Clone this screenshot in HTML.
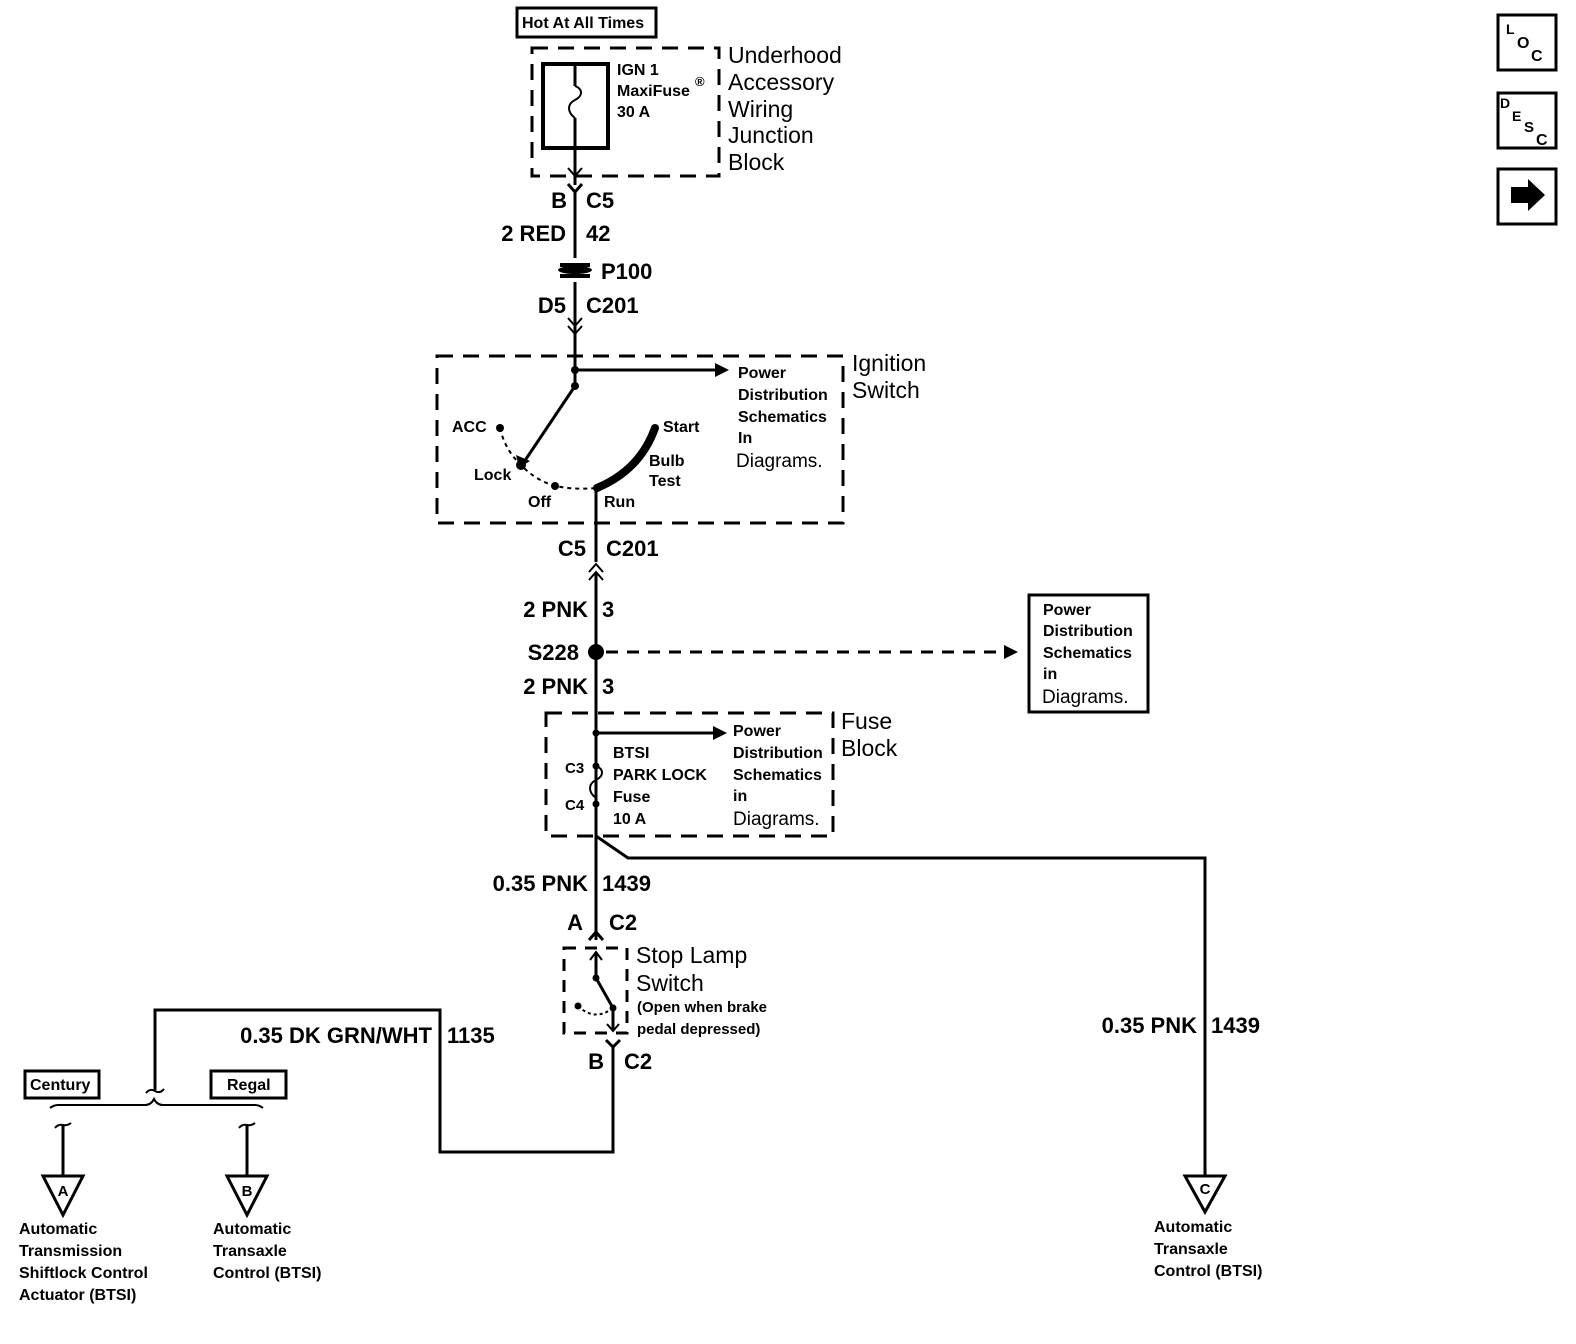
<!DOCTYPE html>
<html><head><meta charset="utf-8"><style>
html,body{margin:0;padding:0;background:#fff;}
svg{display:block;}
text{font-family:"Liberation Sans",Arial,sans-serif;fill:#000;}
.b{font-weight:bold;}
</style></head><body>
<svg width="1576" height="1344" viewBox="0 0 1576 1344" xmlns="http://www.w3.org/2000/svg">
<g fill="none" stroke="#000" stroke-width="3">
<!-- Hot at all times -->
<rect x="517" y="8" width="139" height="29"/>
<!-- underhood dashed -->
<rect x="532" y="48" width="187" height="128" stroke-dasharray="16,10"/>
<rect x="543" y="64" width="65" height="84" stroke-width="4"/>
<path d="M575 64 V86 M575 118 V185"/>
<path d="M575 86 c8 3 8 10 0 14 c-8 4 -8 12 0 18" stroke-width="2"/>
<path d="M568 168 L575 176 L582 168" stroke-width="2"/>
<path d="M568 184 L575 192 L582 184 M575 192 V258"/>
<!-- P100 -->
<path d="M560 265 H590 M560 276 H590" stroke-width="4"/>
<path d="M575 282 V335"/>
<path d="M568 318 L575 326 L582 318 M568 326 L575 334 L582 326" stroke-width="2"/>
<path d="M575 334 V386"/>
<!-- ignition dashed -->
<rect x="437" y="356" width="406" height="167" stroke-dasharray="16,10"/>
<path d="M575 370 H715"/>
<path d="M575 386 L524 462"/>
<path d="M500 428 Q505 450 521 465 Q535 480 555 486 Q575 490 597 488" stroke-width="2" stroke-dasharray="4,4"/>
<path d="M597 488 Q640 470 655 428" stroke-width="8"/>
<path d="M596 488 V562"/>
<path d="M589 572 L596 564 L603 572 M589 580 L596 572 L603 580" stroke-width="2"/>
<path d="M596 572 V940"/>
<path d="M606 652 H1005" stroke-dasharray="12,9"/>
<rect x="1029" y="595" width="119" height="117"/>
<!-- fuse block -->
<rect x="546" y="713" width="287" height="123" stroke-dasharray="16,10"/>
<path d="M596 733 H713"/>
<path d="M596 733 V766 M596 804 V836"/>
<path d="M596 766 c8 3 8 10 0 14 c-8 4 -8 12 0 18 v6" stroke-width="2"/>
<path d="M596 836 L628 858 H1205 V1176"/>
<path d="M589 940 L596 932 L603 940"/>
<!-- stop lamp -->
<rect x="564" y="948" width="63" height="85" stroke-dasharray="12,9"/>
<path d="M596 952 V978 L613 1008 V1030"/>
<path d="M590 960 L596 952 L602 960 M607 1024 L613 1031 L619 1024" stroke-width="2"/>
<path d="M578 1006 Q595 1022 613 1008" stroke-width="2" stroke-dasharray="3,3"/>
<path d="M606 1040 L613 1047 L620 1040 M613 1047 V1152 H440 V1010 H155 V1090"/>
<path d="M146 1093 q4 -5 9 -2 q5 3 9 -2" stroke-width="2"/>
<path d="M50 1108 q4 -3 8 -3 H145 q6 0 9 -6 q3 6 9 6 H255 q4 0 8 3" stroke-width="2"/>
<rect x="25" y="1071" width="74" height="27"/>
<rect x="211" y="1071" width="75" height="27"/>
<path d="M55 1128 q3 -4 8 -3 q4 1 8 -2 M63 1126 V1176" stroke-width="2"/>
<path d="M239 1128 q3 -4 8 -3 q4 1 8 -2 M247 1126 V1176" stroke-width="2"/>
<path d="M63 1126 V1176 M247 1126 V1176" />
<path d="M43 1176 H83 L63 1215 Z"/>
<path d="M227 1176 H267 L247 1215 Z"/>
<path d="M1185 1176 H1225 L1205 1212 Z"/>
<!-- icons -->
<rect x="1498" y="15" width="58" height="55"/>
<rect x="1498" y="93" width="58" height="55"/>
<rect x="1498" y="169" width="58" height="55"/>
</g>
<g fill="#000">
<path d="M715 363 L729 370 L715 377 Z"/>
<path d="M713 726 L727 733 L713 740 Z"/>
<path d="M1004 645 L1018 652 L1004 659 Z"/>
<path d="M516 455 L519 468 L530 461 Z"/>
<circle cx="575" cy="370" r="4"/><circle cx="575" cy="386" r="4"/>
<circle cx="500" cy="428" r="4"/><circle cx="521" cy="465" r="5"/>
<circle cx="555" cy="486" r="4"/><circle cx="597" cy="488" r="4"/>
<circle cx="655" cy="428" r="4"/>
<circle cx="596" cy="652" r="8"/>
<circle cx="596" cy="733" r="3.5"/><circle cx="596" cy="766" r="3.5"/><circle cx="596" cy="804" r="3.5"/>
<circle cx="596" cy="978" r="3.5"/><circle cx="613" cy="1008" r="3.5"/><circle cx="578" cy="1006" r="3.5"/>
<ellipse cx="575" cy="270" rx="17" ry="4"/>
<path d="M1511 187 H1528 V179 L1545 195 L1528 211 V203 H1511 Z"/>
</g>
<g class="b">
<text x="522" y="28" font-size="16">Hot At All Times</text>
<text x="617" y="75" font-size="16">IGN 1</text>
<text x="617" y="96" font-size="16">MaxiFuse</text>
<text x="695" y="86" font-size="13">®</text>
<text x="617" y="117" font-size="16">30 A</text>
<text x="728" y="63" font-size="23" font-weight="normal">Underhood</text>
<text x="728" y="90" font-size="23" font-weight="normal">Accessory</text>
<text x="728" y="117" font-size="23" font-weight="normal">Wiring</text>
<text x="728" y="143" font-size="23" font-weight="normal">Junction</text>
<text x="728" y="170" font-size="23" font-weight="normal">Block</text>
<text x="567" y="208" font-size="22" text-anchor="end">B</text>
<text x="586" y="208" font-size="22">C5</text>
<text x="566" y="241" font-size="22" text-anchor="end">2 RED</text>
<text x="586" y="241" font-size="22">42</text>
<text x="601" y="279" font-size="22">P100</text>
<text x="566" y="313" font-size="22" text-anchor="end">D5</text>
<text x="586" y="313" font-size="22">C201</text>
<text x="738" y="378" font-size="16">Power</text>
<text x="738" y="400" font-size="16">Distribution</text>
<text x="738" y="422" font-size="16">Schematics</text>
<text x="738" y="443" font-size="16">In</text>
<text x="736" y="467" font-size="19" font-weight="normal">Diagrams.</text>
<text x="852" y="371" font-size="23" font-weight="normal">Ignition</text>
<text x="852" y="398" font-size="23" font-weight="normal">Switch</text>
<text x="452" y="432" font-size="16">ACC</text>
<text x="474" y="480" font-size="16">Lock</text>
<text x="528" y="507" font-size="16">Off</text>
<text x="604" y="507" font-size="16">Run</text>
<text x="663" y="432" font-size="16">Start</text>
<text x="649" y="466" font-size="16">Bulb</text>
<text x="649" y="486" font-size="16">Test</text>
<text x="586" y="556" font-size="22" text-anchor="end">C5</text>
<text x="606" y="556" font-size="22">C201</text>
<text x="588" y="617" font-size="22" text-anchor="end">2 PNK</text>
<text x="602" y="617" font-size="22">3</text>
<text x="579" y="660" font-size="22" text-anchor="end">S228</text>
<text x="588" y="694" font-size="22" text-anchor="end">2 PNK</text>
<text x="602" y="694" font-size="22">3</text>
<text x="1043" y="615" font-size="16">Power</text>
<text x="1043" y="636" font-size="16">Distribution</text>
<text x="1043" y="658" font-size="16">Schematics</text>
<text x="1043" y="679" font-size="16">in</text>
<text x="1042" y="703" font-size="19" font-weight="normal">Diagrams.</text>
<text x="733" y="736" font-size="16">Power</text>
<text x="733" y="758" font-size="16">Distribution</text>
<text x="733" y="780" font-size="16">Schematics</text>
<text x="733" y="801" font-size="16">in</text>
<text x="733" y="825" font-size="19" font-weight="normal">Diagrams.</text>
<text x="841" y="729" font-size="23" font-weight="normal">Fuse</text>
<text x="841" y="756" font-size="23" font-weight="normal">Block</text>
<text x="613" y="758" font-size="16">BTSI</text>
<text x="613" y="780" font-size="16">PARK LOCK</text>
<text x="613" y="802" font-size="16">Fuse</text>
<text x="613" y="824" font-size="16">10 A</text>
<text x="565" y="773" font-size="15">C3</text>
<text x="565" y="810" font-size="15">C4</text>
<text x="588" y="891" font-size="22" text-anchor="end">0.35 PNK</text>
<text x="602" y="891" font-size="22">1439</text>
<text x="583" y="930" font-size="22" text-anchor="end">A</text>
<text x="609" y="930" font-size="22">C2</text>
<text x="636" y="963" font-size="23" font-weight="normal">Stop Lamp</text>
<text x="636" y="991" font-size="23" font-weight="normal">Switch</text>
<text x="637" y="1012" font-size="15">(Open when brake</text>
<text x="637" y="1034" font-size="15">pedal depressed)</text>
<text x="604" y="1069" font-size="22" text-anchor="end">B</text>
<text x="624" y="1069" font-size="22">C2</text>
<text x="432" y="1043" font-size="22" text-anchor="end">0.35 DK GRN/WHT</text>
<text x="447" y="1043" font-size="22">1135</text>
<text x="1197" y="1033" font-size="22" text-anchor="end">0.35 PNK</text>
<text x="1211" y="1033" font-size="22">1439</text>
<text x="30" y="1090" font-size="16">Century</text>
<text x="227" y="1090" font-size="16">Regal</text>
<text x="63" y="1196" font-size="15" text-anchor="middle">A</text>
<text x="247" y="1196" font-size="15" text-anchor="middle">B</text>
<text x="1205" y="1194" font-size="15" text-anchor="middle">C</text>
<text x="19" y="1234" font-size="16">Automatic</text>
<text x="19" y="1256" font-size="16">Transmission</text>
<text x="19" y="1278" font-size="16">Shiftlock Control</text>
<text x="19" y="1300" font-size="16">Actuator (BTSI)</text>
<text x="213" y="1234" font-size="16">Automatic</text>
<text x="213" y="1256" font-size="16">Transaxle</text>
<text x="213" y="1278" font-size="16">Control (BTSI)</text>
<text x="1154" y="1232" font-size="16">Automatic</text>
<text x="1154" y="1254" font-size="16">Transaxle</text>
<text x="1154" y="1276" font-size="16">Control (BTSI)</text>
<text x="1506" y="34" font-size="14">L</text>
<text x="1517" y="48" font-size="16">O</text>
<text x="1531" y="61" font-size="16">C</text>
<text x="1500" y="108" font-size="14">D</text>
<text x="1512" y="121" font-size="14">E</text>
<text x="1524" y="132" font-size="15">S</text>
<text x="1536" y="145" font-size="16">C</text>
</g>
</svg>
</body></html>
